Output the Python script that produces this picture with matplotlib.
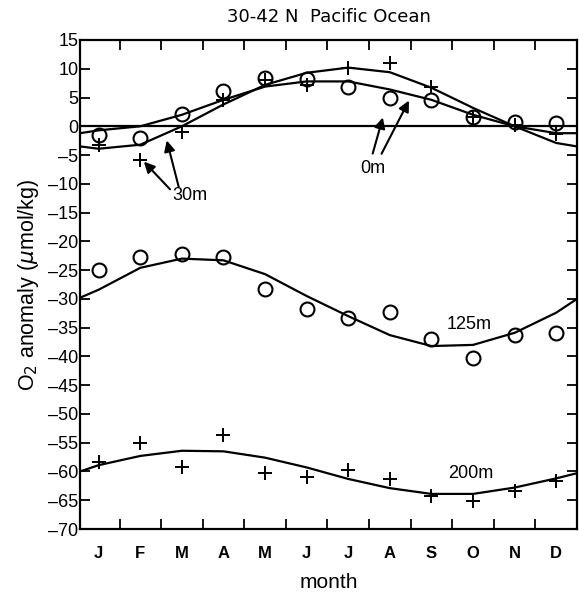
import matplotlib
matplotlib.use("Agg")
import matplotlib.pyplot as plt

plt.rcParams['font.family'] = ['Liberation Sans', 'DejaVu Sans']

# ---- data ----
month_labels = ["J", "F", "M", "A", "M", "J", "J", "A", "S", "O", "N", "D"]
months = [1, 2, 3, 4, 5, 6, 7, 8, 9, 10, 11, 12]

obs_0m = [-1.6, -2.1, 2.1, 6.1, 8.4, 8.3, 6.8, 5.0, 4.5, 1.7, 0.8, 0.5]
obs_30m = [-3.2, -5.8, -1.0, 4.5, 8.1, 7.2, 10.2, 11.0, 6.9, 1.7, 0.2, -1.4]
obs_125m = [-25.0, -22.7, -22.2, -22.7, -28.2, -31.8, -33.3, -32.3, -36.9, -40.3, -36.3, -36.0]
obs_200m = [-58.4, -55.1, -59.2, -53.6, -60.3, -60.9, -59.8, -61.3, -64.2, -65.1, -63.4, -61.7]

fit_x = [0.55, 1, 2, 3, 4, 5, 6, 7, 8, 9, 10, 11, 12, 12.5]
fit_0m = [-1.2, -0.7, 0.0, 2.0, 4.6, 6.9, 7.8, 7.8, 6.4, 4.6, 2.0, 0.0, -1.2, -1.2]
fit_30m = [-3.5, -3.9, -3.2, 0.0, 3.8, 7.2, 9.3, 10.2, 9.4, 6.7, 3.2, 0.0, -2.9, -3.5]
fit_125m = [-29.8, -28.4, -24.6, -23.0, -23.3, -25.7, -29.5, -33.0, -36.3, -38.2, -38.0, -35.9, -32.4, -30.0]
fit_200m = [-60.0, -58.9, -57.3, -56.4, -56.5, -57.6, -59.3, -61.3, -62.9, -63.9, -63.9, -62.8, -61.2, -60.3]

y_ticks = list(range(15, -71, -5))
y_tick_labels = [str(v) if v >= 0 else "\u2013" + str(-v) for v in y_ticks]

title = "30-42 N  Pacific Ocean"

# ---- figure ----
fig = plt.figure(figsize=(5.79, 5.93), dpi=100)
ax = fig.add_axes([80 / 579, 64 / 593, 497 / 579, 489 / 593])

ax.axhline(0, color="black", lw=1.6, zorder=1)

for fx in (fit_0m, fit_30m, fit_125m, fit_200m):
    ax.plot(fit_x, fx, color="black", lw=1.6, zorder=2)

ax.plot(months, obs_0m, ls="none", marker="o", ms=10, mfc="none", mec="black", mew=1.5, zorder=3)
ax.plot(months, obs_125m, ls="none", marker="o", ms=10, mfc="none", mec="black", mew=1.5, zorder=3)
ax.plot(months, obs_30m, ls="none", marker="+", ms=10, mec="black", mew=1.4, zorder=3)
ax.plot(months, obs_200m, ls="none", marker="+", ms=10, mec="black", mew=1.4, zorder=3)

ax.set_xlim(0.55, 12.5)
ax.set_ylim(-70, 15)

# month boundary ticks on bottom/top, month labels as minor ticks
ax.set_xticks([m + 0.5 for m in months[:-1]])
ax.set_xticklabels([])
ax.set_xticks(months, minor=True)
ax.set_xticklabels(month_labels, minor=True, fontsize=12, fontweight="bold")
ax.tick_params(axis="x", which="minor", length=0, pad=12)
ax.tick_params(axis="x", which="major", direction="in", length=7, width=1.3, top=True)

ax.set_yticks(y_ticks)
ax.set_yticklabels(y_tick_labels, fontsize=13)
ax.tick_params(axis="y", direction="in", length=7, width=1.3, right=True, pad=1)

for s in ax.spines.values():
    s.set_linewidth(1.6)

ax.set_xlabel("month", fontsize=15, labelpad=9)
ax.set_ylabel(r"O$_2$ anomaly ($\mu$mol/kg)", fontsize=15.5, labelpad=5)
ax.set_title(title, fontsize=13, pad=13, fontfamily="DejaVu Sans")

# depth labels and arrows
lab_fs = 13
ax.text(7.60, -7.4, "0m", fontsize=lab_fs, ha="center", va="center")
ax.annotate("", xy=(7.85, 2.0), xytext=(7.57, -5.2),
            arrowprops=dict(arrowstyle="-|>", color="black", lw=1.5, mutation_scale=16))
ax.annotate("", xy=(8.49, 4.9), xytext=(7.77, -5.2),
            arrowprops=dict(arrowstyle="-|>", color="black", lw=1.5, mutation_scale=16))

ax.text(3.20, -12.0, "30m", fontsize=lab_fs, ha="center", va="center")
ax.annotate("", xy=(2.04, -5.8), xytext=(2.76, -11.3),
            arrowprops=dict(arrowstyle="-|>", color="black", lw=1.5, mutation_scale=16))
ax.annotate("", xy=(2.62, -2.0), xytext=(2.94, -11.0),
            arrowprops=dict(arrowstyle="-|>", color="black", lw=1.5, mutation_scale=16))

ax.text(9.90, -34.4, "125m", fontsize=lab_fs, ha="center", va="center")
ax.text(9.94, -60.3, "200m", fontsize=lab_fs, ha="center", va="center")

fig.savefig("out.png", dpi=100)
